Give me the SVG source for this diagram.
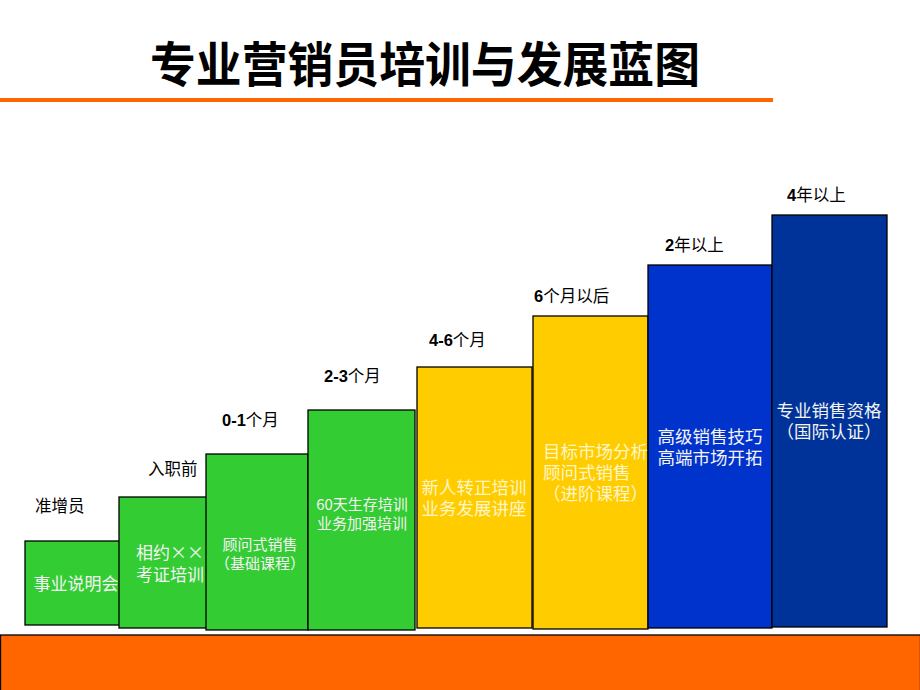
<svg xmlns="http://www.w3.org/2000/svg" width="920" height="690" viewBox="0 0 920 690">
<style>
text{font-family:"Noto Sans CJK SC","Liberation Sans",sans-serif}
.box{stroke:#000;stroke-width:1.3}
.g{fill:#33CC33}.y{fill:#FFCC00}.b{fill:#0033CC}.d{fill:#003399}
.lbl{font-size:16.5px;fill:#000}
.lbl tspan.n{font-family:"Liberation Sans",sans-serif;font-weight:bold}
.t{fill:#f4f4f4;text-anchor:middle}
</style>
<rect width="920" height="690" fill="#fff"/>
<g id="title">
<text x="150" y="82" font-size="48" font-weight="bold" fill="#000" textLength="550" lengthAdjust="spacingAndGlyphs">专业营销员培训与发展蓝图</text>
<rect x="0" y="98" width="773" height="4" fill="#FF6600"/>
</g>
<g id="base"><rect x="0.5" y="635" width="920" height="56" fill="#FF6600" stroke="#000" stroke-width="1.3"/></g>
<g id="connectors"></g>
<g id="step1">
<rect class="box g" x="25" y="541" width="95" height="84"/>
<text class="t" x="76" y="590" font-size="17">事业说明会</text>
<text class="lbl" x="35" y="512">准增员</text>
</g>
<g id="step2">
<rect class="box g" x="119" y="497" width="89" height="131"/>
<text class="t" x="170" y="559" font-size="17" fill="#e4e4e4">相约××</text>
<text class="t" x="170" y="581" font-size="17">考证培训</text>
<text class="lbl" x="148" y="475">入职前</text>
</g>
<g id="step3">
<rect class="box g" x="206" y="454" width="102" height="176"/>
<text class="t" x="260" y="550" font-size="15">顾问式销售</text>
<text class="t" x="260" y="569" font-size="15">（基础课程）</text>
<text class="lbl" x="222" y="426"><tspan class="n">0-1</tspan>个月</text>
</g>
<g id="step4">
<rect class="box g" x="308" y="410" width="107" height="220"/>
<text class="t" x="362" y="510" font-size="15">60天生存培训</text>
<text class="t" x="362" y="529" font-size="15">业务加强培训</text>
<text class="lbl" x="324" y="382"><tspan class="n">2-3</tspan>个月</text>
</g>
<g id="step5">
<rect class="box y" x="417" y="367" width="115" height="261"/>
<text class="t" x="474" y="494" font-size="17.5" style="fill:#fff6c8">新人转正培训</text>
<text class="t" x="474" y="515" font-size="17.5" style="fill:#fff6c8">业务发展讲座</text>
<text class="lbl" x="429" y="346"><tspan class="n">4-6</tspan>个月</text>
</g>
<g id="step6">
<rect class="box y" x="533" y="316" width="115" height="313"/>
<text x="543" y="458" font-size="17.5" fill="#fff6c8">目标市场分析</text>
<text x="543" y="479" font-size="17.5" fill="#fff6c8">顾问式销售</text>
<text x="543" y="500" font-size="17.5" fill="#fff6c8">（进阶课程）</text>
<text class="lbl" x="534" y="302"><tspan class="n">6</tspan>个月以后</text>
</g>
<g id="step7">
<rect class="box b" x="648" y="265" width="124" height="363"/>
<text class="t" x="710" y="443" font-size="17.5">高级销售技巧</text>
<text class="t" x="710" y="464" font-size="17.5">高端市场开拓</text>
<text class="lbl" x="665" y="251"><tspan class="n">2</tspan>年以上</text>
</g>
<g id="step8">
<rect class="box d" x="772" y="215" width="115" height="412"/>
<text class="t" x="829" y="417" font-size="17.5">专业销售资格</text>
<text class="t" x="829" y="438" font-size="17.5">（国际认证）</text>
<text class="lbl" x="787" y="201"><tspan class="n">4</tspan>年以上</text>
</g>
</svg>
